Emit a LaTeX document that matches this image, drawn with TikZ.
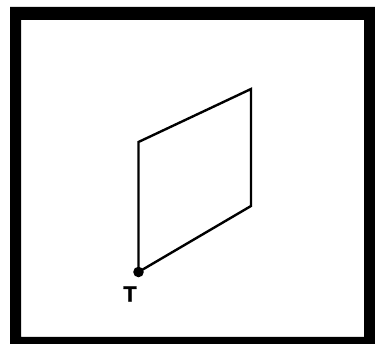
\documentclass[tikz,border=0pt]{standalone}
\usepackage{fontspec}
\setmainfont{Liberation Sans}
\newfontfamily\heavyT{Liberation Sans}[BoldFeatures={FakeBold=1.5}]
\begin{document}
\begin{tikzpicture}[x=1pt,y=-1pt,
  edge/.style={line width=2.4pt,line join=miter},
  lbl/.style={font=\heavyT\fontsize{22}{22}\selectfont\bfseries,inner sep=0pt}]
\useasboundingbox (0,0) rectangle (375,344);
\fill[black,even odd rule] (10,7) rectangle (375,344) (21,20) rectangle (364,337);
\coordinate (bl) at (138.5,272);
\coordinate (tl) at (138.5,142);
\coordinate (tr) at (251,89);
\coordinate (br) at (251,206);
\draw[edge] (bl) -- (tl) -- (tr) -- (br) -- cycle;
\fill (bl) circle (5.3pt);
\node[lbl] (T) at (130,294) {T};
\end{tikzpicture}
\end{document}
